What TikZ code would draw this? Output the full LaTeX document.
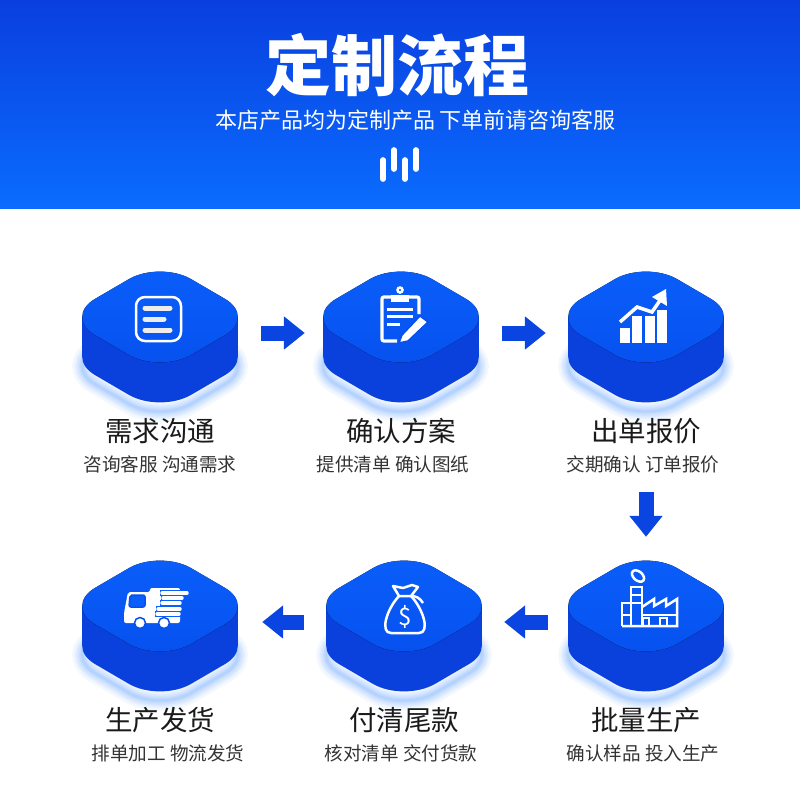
\documentclass[tikz,border=0pt]{standalone}
\usepackage{fontspec}
\setmainfont{Noto Sans CJK SC}
\usepackage{xcolor}
\usetikzlibrary{arrows.meta,positioning}
\definecolor{headtop}{HTML}{0A3FDF}
\definecolor{headbottom}{HTML}{0A6CFF}
\definecolor{facetop}{HTML}{0A5FFA}
\definecolor{facebottom}{HTML}{0650EE}
\definecolor{sideblue}{HTML}{0A40DC}
\definecolor{arrowblue}{HTML}{0A45E2}
\definecolor{inktext}{HTML}{1A1A1A}
\definecolor{subtext}{HTML}{333333}
\newcommand{\blockface}{(-96,0) -- (0,-56) -- (96,0) -- (0,56) -- cycle}
\tikzset{
  flowblock/.pic={
    \foreach \w in {2,4,6,9,12,15,20}
      \draw[headbottom,opacity=.05,line width=\w pt,rounded corners=36pt,shift={(0,33)}] \blockface;
    \fill[sideblue,rounded corners=36pt,shift={(0,24)}] \blockface;
    \fill[sideblue] (-78,-16) rectangle (78,24);
    \fill[top color=facetop,bottom color=facebottom,rounded corners=36pt,shift={(0,-16)}] \blockface;
    \node (-box) [minimum width=156pt,minimum height=130pt,inner sep=0pt] at (0,0) {};
  },
  steptitle/.style={font=\fontsize{27.5}{30}\selectfont,text=inktext,text height=24pt,text depth=4pt,inner sep=0pt},
  stepsub/.style={font=\fontsize{18.6}{22}\selectfont,text=subtext,text height=16pt,text depth=3pt,inner sep=0pt},
  flowarrow/.style={draw=arrowblue,line width=15pt,-{Triangle[length=21pt,width=32pt]}},
  iconline/.style={white,line width=2.5pt},
}
\begin{document}
\begin{tikzpicture}[x=1pt,y=-1pt]
\useasboundingbox (0,0) rectangle (800,800);
\fill[top color=headtop,bottom color=headbottom] (0,0) rectangle (800,208);
\node (headtitle) [text=white,font=\fontsize{66}{70}\selectfont\bfseries,inner sep=0pt] at (397,65) {定制流程};
\node (headsub) [text=white,font=\fontsize{22}{26}\selectfont,inner sep=0pt] at (415.5,120) {本店产品均为定制产品 下单前请咨询客服};
\foreach \x/\a/\b in {383/160/179,394/150/169,405/160/179,416/150/169}
  \draw[white,line width=5.7pt,line cap=round] (\x,\a) -- (\x,\b);

\pic (need) at (160,333) {flowblock};
\pic (plan) at (401,333) {flowblock};
\pic (quote) at (646,333) {flowblock};
\pic (make) at (646,622) {flowblock};
\pic (pay) at (404,622) {flowblock};
\pic (ship) at (160,622) {flowblock};

\draw[flowarrow,shorten <=23pt,shorten >=18pt] (need-box) -- (plan-box);
\draw[flowarrow,shorten <=23pt,shorten >=22pt] (plan-box) -- (quote-box);
\draw[flowarrow,shorten <=94pt,shorten >=20pt] (quote-box) -- (make-box);
\draw[flowarrow,shorten <=20pt,shorten >=22pt] (make-box) -- (pay-box);
\draw[flowarrow,shorten <=22pt,shorten >=24pt] (pay-box) -- (ship-box);

\node (needtitle) [steptitle,below=19pt of need-box] {需求沟通};
\node (needsub) [stepsub,below=10pt of needtitle] {咨询客服 沟通需求};
\node (plantitle) [steptitle,below=19pt of plan-box] {确认方案};
\node (plansub) [stepsub,below=10pt of plantitle,xshift=-8pt] {提供清单 确认图纸};
\node (quotetitle) [steptitle,below=19pt of quote-box] {出单报价};
\node (quotesub) [stepsub,below=10pt of quotetitle,xshift=-3pt] {交期确认 订单报价};
\node (maketitle) [steptitle,below=19pt of make-box] {批量生产};
\node (makesub) [stepsub,below=10pt of maketitle,xshift=-3pt] {确认样品 投入生产};
\node (paytitle) [steptitle,below=19pt of pay-box] {付清尾款};
\node (paysub) [stepsub,below=10pt of paytitle,xshift=-3pt] {核对清单 交付货款};
\node (shiptitle) [steptitle,below=19pt of ship-box] {生产发货};
\node (shipsub) [stepsub,below=10pt of shiptitle,xshift=8pt] {排单加工 物流发货};

% list icon
\draw[iconline,rounded corners=9pt] (136,297) rectangle (181,341);
\foreach \y/\e in {308/170,319/164,330/170}
  \draw[white!93!black,line width=5pt,line cap=round] (145,\y) -- (\e,\y);

% clipboard icon
\draw[iconline,line width=3.2pt,rounded corners=2pt] (392,297) -- (382,297) -- (382,341) -- (397,341);
\draw[iconline,line width=3.2pt,rounded corners=2pt] (408,297) -- (419,297) -- (419,314);
\fill[white] (391,295) rectangle (409,302);
\draw[iconline] (400,290) circle (2.5pt);
\foreach \y/\e in {309/413,316/413,324/400}
  \draw[white,line width=3pt] (387,\y) -- (\e,\y);
\fill[white,draw=facebottom,line width=1.5pt] (399,343) -- (402,335) -- (420,316) -- (428,322) -- (408,341) -- cycle;

% chart icon
\foreach \l/\t in {620/328,632/316,645/316,657/310}
  \fill[white] (\l,\t) rectangle (\l+10,343);
\draw[white,line width=3.5pt] (620,322) -- (637,307) -- (652,312) -- (661,299);
\fill[white] (666,289) -- (667,306) -- (652,297) -- cycle;

% factory icon
\draw[iconline] (622,626) -- (677,626) -- (677,599) -- (666,606) -- (666,599) -- (654,606) -- (654,599) -- (642,607);
\draw[iconline] (622,626) -- (622,603) -- (631,603);
\draw[iconline] (631,626) -- (631,587) -- (642,587) -- (642,626);
\draw[iconline] (642,615) -- (677,615);
\draw[iconline] (631,595) -- (642,595) (631,603) -- (642,603) (622,615) -- (631,615);
\draw[iconline] (643,618) rectangle (649,626) (660,618) rectangle (667,626);
\draw[iconline,rotate around={-40:(638,576)}] (638,576) ellipse (7pt and 4.5pt);

% truck icon
\fill[white,rounded corners=2pt] (124,613) -- (128,592) -- (150,592) -- (150,588) -- (180,588) -- (180,623) -- (124,623) -- cycle;
\draw[facebottom,line width=1.5pt,fill=facetop,rounded corners=2pt] (130,595) -- (145,595) -- (145,607) -- (129,607) -- cycle;
\foreach \y/\l/\e in {593/162/190,598/163/184,603/162/182,609/158/182,614/157/181}
  \draw[facetop,line width=5.6pt] (\l-2,\y) -- (\e,\y);
\foreach \y/\l/\e in {593/162/187,598/163/182,603/162/180,609/158/180,614/157/179}
  \draw[white,line width=3.4pt,line cap=round] (\l,\y) -- (\e,\y);
\foreach \x in {140,164}
  \fill[white,draw=facebottom,line width=1.5pt] (\x,623) circle (5.5pt);

% money bag icon
\draw[iconline,rounded corners=3pt] (399,596) .. controls (386,610) and (380,633) .. (394,633) -- (416,633) .. controls (430,633) and (424,610) .. (411,596);
\draw[iconline,line join=round] (399,596) -- (393,586) -- (403,588) -- (412,585) -- (418,587) -- (411,596) -- cycle;
\draw[iconline] (411,596) .. controls (416,596) and (420,598) .. (423,603);
\node (bagsign) [text=white,font=\fontsize{24}{26}\selectfont,inner sep=0pt] at (405,617) {\$};
\end{tikzpicture}
\end{document}
